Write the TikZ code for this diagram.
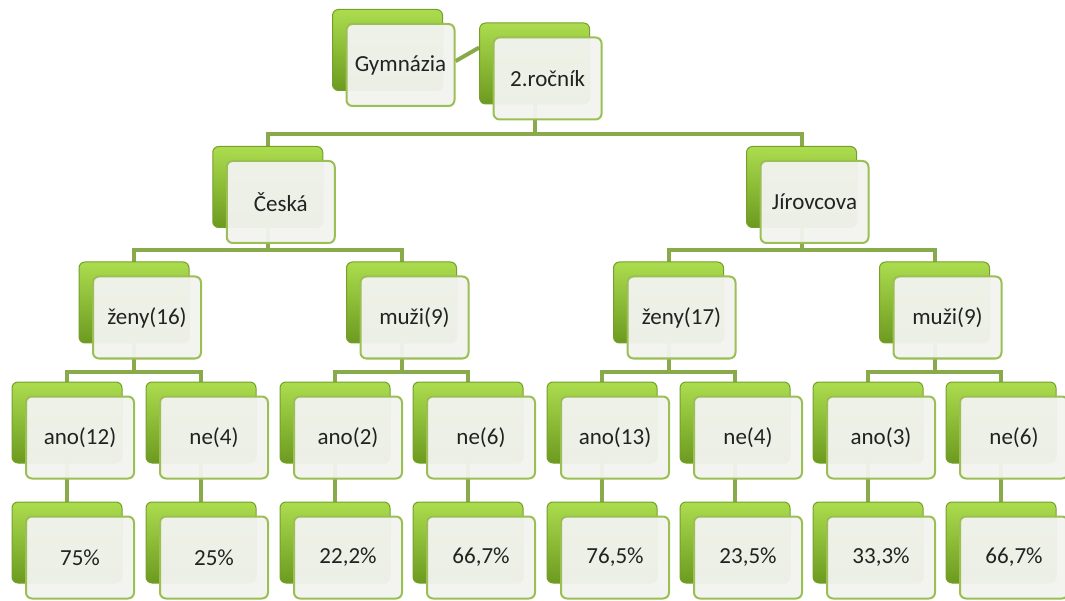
\documentclass[tikz,border=0pt]{standalone}
\usepackage{fontspec}
\setmainfont{Carlito}
\usetikzlibrary{backgrounds}
\definecolor{linegreen}{HTML}{88AA4A}
\definecolor{backtop}{HTML}{ACDC4E}
\definecolor{backbot}{HTML}{6C9A20}
\definecolor{backdraw}{HTML}{74A02A}
\definecolor{frontfill}{HTML}{F2F3EE}
\definecolor{frontdraw}{HTML}{9BBF55}
\definecolor{txt}{HTML}{222222}
\tikzset{
  backbox/.style={minimum width=110pt, minimum height=81pt, inner sep=0pt,
    rounded corners=6pt, top color=backtop, bottom color=backbot, draw=backdraw, line width=1pt},
  frontbox/.style={minimum width=108pt, minimum height=82pt, inner sep=0pt,
    rounded corners=6pt, fill=frontfill, fill opacity=0.96, text opacity=1,
    draw=frontdraw, draw opacity=1, line width=2pt, text=txt,
    font=\fontsize{23}{27}\selectfont},
  conn/.style={draw=linegreen, line width=4pt}
}
\newcommand\smartnode[4]{%
  \node[backbox] (#1b) at (#2,#3) {};
  \node[frontbox, xshift=13pt, yshift=-15pt] (#1) at (#2,#3) {#4};}
\begin{document}
\begin{tikzpicture}[x=1pt,y=-1pt]
\useasboundingbox (0,0) rectangle (1065,601);
% level 1
\smartnode{gym}{387.5}{50}{Gymnázia}
\smartnode{roc}{534.6}{63.5}{2.ročník}
% level 2
\smartnode{ces}{267.75}{187}{Česká}
\smartnode{jir}{801.5}{187}{Jírovcova}
% level 3
\smartnode{za}{134}{302.5}{ženy(16)}
\smartnode{ma}{401.5}{302.5}{muži(9)}
\smartnode{zb}{668.5}{302.5}{ženy(17)}
\smartnode{mb}{934.5}{302.5}{muži(9)}
% level 4
\smartnode{a1}{67}{422.5}{ano(12)}
\smartnode{a2}{201}{422.5}{ne(4)}
\smartnode{a3}{335}{422.5}{ano(2)}
\smartnode{a4}{468}{422.5}{ne(6)}
\smartnode{a5}{602}{422.5}{ano(13)}
\smartnode{a6}{735}{422.5}{ne(4)}
\smartnode{a7}{868}{422.5}{ano(3)}
\smartnode{a8}{1001}{422.5}{ne(6)}
% level 5
\smartnode{p1}{67}{542.5}{75\%}
\smartnode{p2}{201}{542.5}{25\%}
\smartnode{p3}{335}{542.5}{22,2\%}
\smartnode{p4}{468}{542.5}{66,7\%}
\smartnode{p5}{602}{542.5}{76,5\%}
\smartnode{p6}{735}{542.5}{23,5\%}
\smartnode{p7}{868}{542.5}{33,3\%}
\smartnode{p8}{1001}{542.5}{66,7\%}
\begin{pgfonlayer}{background}
  \draw[conn] (gym.4) -- (rocb.164);
  % roc -> ces, jir
  \draw[conn] (rocb.center) -- (rocb.center |- 0,134);
  \draw[conn] (cesb.center) -- (cesb.center |- 0,134) -- (jirb.center |- 0,134) -- (jirb.center);
  % ces -> za, ma ; jir -> zb, mb
  \draw[conn] (cesb.center) -- (cesb.center |- 0,250);
  \draw[conn] (zab.center) -- (zab.center |- 0,250) -- (mab.center |- 0,250) -- (mab.center);
  \draw[conn] (jirb.center) -- (jirb.center |- 0,250);
  \draw[conn] (zbb.center) -- (zbb.center |- 0,250) -- (mbb.center |- 0,250) -- (mbb.center);
  % level 3 -> 4
  \draw[conn] (zab.center) -- (zab.center |- 0,372);
  \draw[conn] (a1b.center) -- (a1b.center |- 0,372) -- (a2b.center |- 0,372) -- (a2b.center);
  \draw[conn] (mab.center) -- (mab.center |- 0,372);
  \draw[conn] (a3b.center) -- (a3b.center |- 0,372) -- (a4b.center |- 0,372) -- (a4b.center);
  \draw[conn] (zbb.center) -- (zbb.center |- 0,372);
  \draw[conn] (a5b.center) -- (a5b.center |- 0,372) -- (a6b.center |- 0,372) -- (a6b.center);
  \draw[conn] (mbb.center) -- (mbb.center |- 0,372);
  \draw[conn] (a7b.center) -- (a7b.center |- 0,372) -- (a8b.center |- 0,372) -- (a8b.center);
  % level 4 -> 5
  \draw[conn] (a1b.center) -- (p1b.center);
  \draw[conn] (a2b.center) -- (p2b.center);
  \draw[conn] (a3b.center) -- (p3b.center);
  \draw[conn] (a4b.center) -- (p4b.center);
  \draw[conn] (a5b.center) -- (p5b.center);
  \draw[conn] (a6b.center) -- (p6b.center);
  \draw[conn] (a7b.center) -- (p7b.center);
  \draw[conn] (a8b.center) -- (p8b.center);
\end{pgfonlayer}
\end{tikzpicture}
\end{document}
